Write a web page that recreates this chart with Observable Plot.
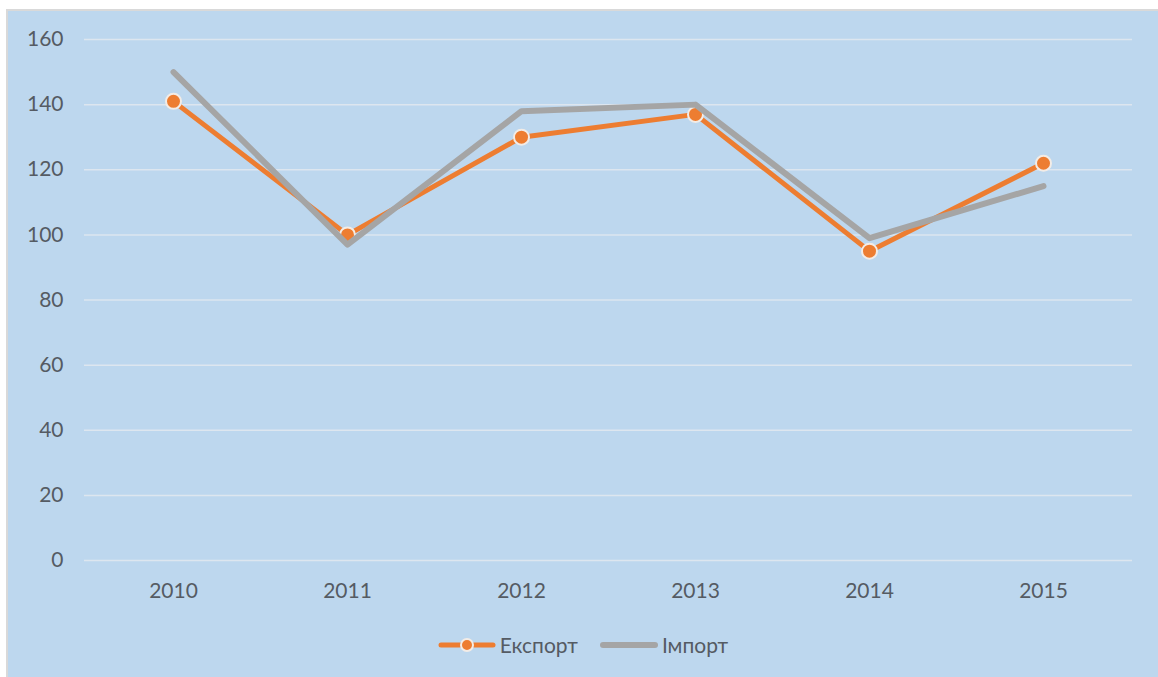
<!DOCTYPE html>
<html>
<head>
<meta charset="utf-8">
<script src="https://cdn.jsdelivr.net/npm/d3@7"></script>
<script src="https://cdn.jsdelivr.net/npm/@observablehq/plot@0.6"></script>
<style>
  html, body { margin: 0; padding: 0; background: #ffffff; width: 1158px; height: 677px; overflow: hidden; }
  #panel {
    position: absolute; left: 6px; top: 9px; width: 1150px; height: 668px;
    background: #BDD7EE; border-top: 2px solid #d9d9d9; border-left: 2px solid #d9d9d9;
    font-family: Lato, "Open Sans", sans-serif;
  }
  #legend {
    display: flex; justify-content: center; align-items: center; gap: 22px;
    font-size: 21px; color: #555b63; margin-top: 11px; padding-right: 0px;
  }
  .item { display: flex; align-items: center; gap: 4px; }
</style>
</head>
<body>
<div id="panel">
  <div id="chart"></div>
  <div id="legend"></div>
</div>
<script>
const years = ["2010", "2011", "2012", "2013", "2014", "2015"];
const exportValues = [141, 100, 130, 137, 95, 122];
const importValues = [150, 97, 138, 140, 99, 115];
const seriesNames = ["Експорт", "Імпорт"];
const yTicks = [0, 20, 40, 60, 80, 100, 120, 140, 160];

const orange = "#ED7D31";
const gray = "#A5A5A5";
const textColor = "#555b63";

const exportData = years.map((y, i) => ({year: y, value: exportValues[i]}));
const importData = years.map((y, i) => ({year: y, value: importValues[i]}));

const chart = Plot.plot({
  width: 1150,
  height: 610,
  marginLeft: 76,
  marginRight: 26,
  marginTop: 28,
  marginBottom: 61,
  style: {background: "transparent", fontFamily: "Lato, 'Open Sans', sans-serif", fontSize: "21px", color: textColor},
  x: {type: "point", domain: years, padding: 0.5, label: null},
  y: {domain: [0, 160], label: null},
  marks: [
    Plot.ruleY(yTicks, {stroke: "#dde6ef", strokeWidth: 1.5}),
    Plot.axisY({ticks: yTicks, tickSize: 0, tickPadding: 21, label: null, fill: textColor}),
    Plot.axisX({tickSize: 0, tickPadding: 23, label: null, fill: textColor}),
    Plot.line(exportData, {x: "year", y: "value", stroke: orange, strokeWidth: 5, strokeLinecap: "round", strokeLinejoin: "round"}),
    Plot.dot(exportData, {x: "year", y: "value", r: 7.5, fill: orange, stroke: "#f3ece6", strokeWidth: 2}),
    Plot.line(importData, {x: "year", y: "value", stroke: gray, strokeWidth: 6, strokeLinecap: "round", strokeLinejoin: "round"})
  ]
});
document.getElementById("chart").appendChild(chart);

const legend = document.getElementById("legend");
legend.innerHTML = `
  <div class="item">
    <svg width="58" height="16"><line x1="3" y1="8" x2="55" y2="8" stroke="${orange}" stroke-width="5" stroke-linecap="round"/>
    <circle cx="29" cy="8" r="6" fill="${orange}" stroke="#f3ece6" stroke-width="2"/></svg>
    <span>${seriesNames[0]}</span>
  </div>
  <div class="item">
    <svg width="58" height="16"><line x1="3" y1="8" x2="55" y2="8" stroke="${gray}" stroke-width="6" stroke-linecap="round"/></svg>
    <span>${seriesNames[1]}</span>
  </div>`;
</script>
</body>
</html>
